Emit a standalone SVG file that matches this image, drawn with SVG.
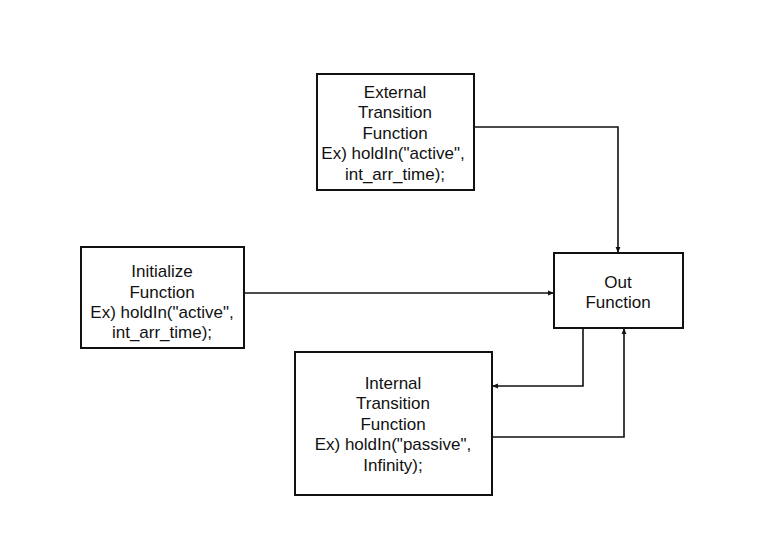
<svg xmlns="http://www.w3.org/2000/svg" width="758" height="554" viewBox="0 0 758 554">
<style>
.box{fill:#fff;stroke:#111;stroke-width:2}
.t{font-family:"Liberation Sans",Arial,sans-serif;font-size:17px;fill:#111;text-anchor:middle}
.c{fill:none;stroke:#111;stroke-width:1.6}
</style>
<defs>
<marker id="ah" viewBox="0 0 10 10" refX="10" refY="5" markerWidth="6" markerHeight="6" orient="auto" markerUnits="userSpaceOnUse">
<path d="M0,1 L10,5 L0,9 z" fill="#111"/>
</marker>
</defs>
<rect width="758" height="554" fill="#fff"/>
<g id="connectors">
<path class="c" d="M474,127 H618 V253" marker-end="url(#ah)"/>
<path class="c" d="M244,293 H554" marker-end="url(#ah)"/>
<path class="c" d="M583,328 V386 H492" marker-end="url(#ah)"/>
<path class="c" d="M492,437 H624 V328" marker-end="url(#ah)"/>
</g>
<g id="external">
<rect class="box" x="317" y="74" width="157" height="116"/>
<text class="t" x="395" y="98">External</text>
<text class="t" x="395" y="118">Transition</text>
<text class="t" x="395" y="139">Function</text>
<text class="t" x="393" y="159">Ex) holdIn("active",</text>
<text class="t" x="395" y="180">int_arr_time);</text>
</g>
<g id="initialize">
<rect class="box" x="81" y="247" width="163" height="101"/>
<text class="t" x="162" y="277">Initialize</text>
<text class="t" x="162" y="298">Function</text>
<text class="t" x="162" y="318">Ex) holdIn("active",</text>
<text class="t" x="162" y="338">int_arr_time);</text>
</g>
<g id="out">
<rect class="box" x="554" y="253" width="129" height="75"/>
<text class="t" x="618" y="288">Out</text>
<text class="t" x="618" y="308">Function</text>
</g>
<g id="internal">
<rect class="box" x="295" y="352" width="197" height="143"/>
<text class="t" x="393" y="389">Internal</text>
<text class="t" x="393" y="409">Transition</text>
<text class="t" x="393" y="430">Function</text>
<text class="t" x="393" y="450">Ex) holdIn("passive",</text>
<text class="t" x="393" y="471">Infinity);</text>
</g>
</svg>
